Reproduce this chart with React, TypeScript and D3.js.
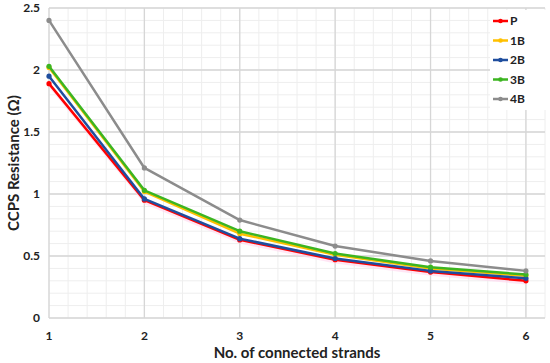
import React, { useRef, useEffect } from "react";
import * as d3 from "d3";

const strands = [1, 2, 3, 4, 5, 6];
const seriesNames = ["P", "1B", "2B", "3B", "4B"];
const valuesP = [1.89, 0.95, 0.63, 0.47, 0.37, 0.3];
const values1B = [2.02, 1.02, 0.68, 0.51, 0.4, 0.34];
const values2B = [1.95, 0.96, 0.64, 0.48, 0.38, 0.32];
const values3B = [2.03, 1.03, 0.7, 0.52, 0.41, 0.35];
const values4B = [2.4, 1.21, 0.79, 0.58, 0.46, 0.38];
const yTicks = [0, 0.5, 1, 1.5, 2, 2.5];

const colors = ["#ff0000", "#ffc000", "#1f4e9e", "#3cb521", "#8c8c8c"];

const W = 550;
const H = 363;
const margin = { top: 8, right: 5, bottom: 45, left: 49 };

const App: React.FC = () => {
  const svgRef = useRef<SVGSVGElement>(null);

  useEffect(() => {
    const svg = d3.select(svgRef.current);
    svg.selectAll("*").remove();

    const allSeries = [valuesP, values1B, values2B, values3B, values4B];
    const font = "Lato, 'Open Sans', sans-serif";

    const x = d3.scaleLinear().domain([1, 6.2]).range([margin.left, W - margin.right]);
    const y = d3.scaleLinear().domain([0, 2.5]).range([H - margin.bottom, margin.top]);

    const g = svg.append("g");

    // minor grid
    const minorX = d3.range(1, 6.2001, 0.2);
    const minorY = d3.range(0, 2.5001, 0.1);
    g.selectAll(".mx")
      .data(minorX)
      .join("line")
      .attr("x1", (d) => x(d))
      .attr("x2", (d) => x(d))
      .attr("y1", y(0))
      .attr("y2", y(2.5))
      .attr("stroke", "#eeeeee")
      .attr("stroke-width", 1);
    g.selectAll(".my")
      .data(minorY)
      .join("line")
      .attr("x1", x(1))
      .attr("x2", x(6.2))
      .attr("y1", (d) => y(d))
      .attr("y2", (d) => y(d))
      .attr("stroke", "#eeeeee")
      .attr("stroke-width", 1);

    // major grid
    g.selectAll(".Mx")
      .data(strands)
      .join("line")
      .attr("x1", (d) => x(d))
      .attr("x2", (d) => x(d))
      .attr("y1", y(0))
      .attr("y2", y(2.5))
      .attr("stroke", "#d6d6d6")
      .attr("stroke-width", 1.3);
    g.selectAll(".My")
      .data(yTicks)
      .join("line")
      .attr("x1", x(1))
      .attr("x2", x(6.2))
      .attr("y1", (d) => y(d))
      .attr("y2", (d) => y(d))
      .attr("stroke", "#d6d6d6")
      .attr("stroke-width", 1.3);

    // faint pink band under the lowest series
    const band = d3
      .area<number>()
      .x((_, i) => x(strands[i]))
      .y0((d) => y(d - 0.03))
      .y1((d) => y(d + 0.01));
    g.append("path")
      .datum(valuesP)
      .attr("d", band)
      .attr("fill", "#ffd6ef")
      .attr("opacity", 0.6);

    // tick labels
    g.selectAll(".yt")
      .data(yTicks)
      .join("text")
      .attr("x", margin.left - 9)
      .attr("y", (d) => y(d))
      .attr("dy", "0.35em")
      .attr("text-anchor", "end")
      .attr("font-family", font)
      .attr("font-weight", "bold")
      .attr("font-size", 12)
      .attr("fill", "#222")
      .text((d) => String(d));
    g.selectAll(".xt")
      .data(strands)
      .join("text")
      .attr("x", (d) => x(d))
      .attr("y", y(0) + 22)
      .attr("text-anchor", "middle")
      .attr("font-family", font)
      .attr("font-weight", "bold")
      .attr("font-size", 12)
      .attr("fill", "#222")
      .text((d) => String(d));

    // axis titles
    g.append("text")
      .attr("x", 297)
      .attr("y", 358)
      .attr("text-anchor", "middle")
      .attr("font-family", font)
      .attr("font-weight", "bold")
      .attr("font-size", 15)
      .attr("fill", "#222")
      .text("No. of connected strands");
    g.append("text")
      .attr("transform", `translate(19,${y(1.25)}) rotate(-90)`)
      .attr("text-anchor", "middle")
      .attr("font-family", font)
      .attr("font-weight", "bold")
      .attr("font-size", 15)
      .attr("fill", "#222")
      .text("CCPS Resistance (Ω)");

    // lines
    const line = d3
      .line<number>()
      .x((_, i) => x(strands[i]))
      .y((d) => y(d));

    allSeries.forEach((vals, si) => {
      g.append("path")
        .datum(vals)
        .attr("d", line)
        .attr("fill", "none")
        .attr("stroke", colors[si])
        .attr("stroke-width", 2.5)
        .attr("stroke-linejoin", "round");
      g.selectAll(`.pt${si}`)
        .data(vals)
        .join("circle")
        .attr("cx", (_, i) => x(strands[i]))
        .attr("cy", (d) => y(d))
        .attr("r", 2.6)
        .attr("fill", colors[si]);
    });

    // legend
    const legend = svg.append("g");
    legend
      .append("rect")
      .attr("x", 490)
      .attr("y", 10)
      .attr("width", 60)
      .attr("height", 100)
      .attr("fill", "white");
    seriesNames.forEach((name, i) => {
      const ly = 21 + i * 19.5;
      legend
        .append("line")
        .attr("x1", 493)
        .attr("x2", 508)
        .attr("y1", ly)
        .attr("y2", ly)
        .attr("stroke", colors[i])
        .attr("stroke-width", 2.5);
      legend
        .append("circle")
        .attr("cx", 500.5)
        .attr("cy", ly)
        .attr("r", 2.3)
        .attr("fill", colors[i]);
      legend
        .append("text")
        .attr("x", 510)
        .attr("y", ly)
        .attr("dy", "0.35em")
        .attr("font-family", font)
        .attr("font-weight", "bold")
        .attr("font-size", 12)
        .attr("fill", "#222")
        .text(name);
    });
  }, []);

  return (
    <div style={{ position: "absolute", left: 0, top: 0, width: W, height: H, background: "white" }}>
      <svg ref={svgRef} width={W} height={H} style={{ display: "block" }} />
    </div>
  );
};

export default App;
